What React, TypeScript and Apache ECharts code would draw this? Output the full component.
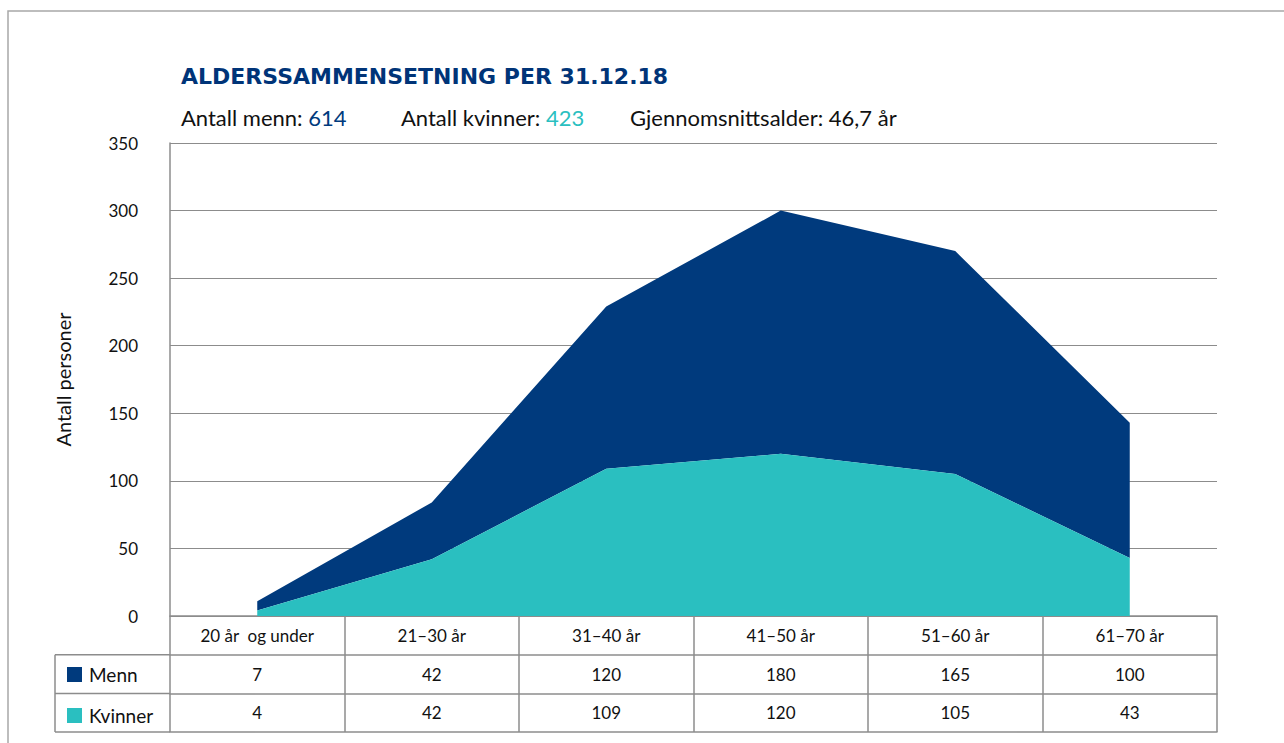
import React, { useEffect, useRef } from "react";
import * as echarts from "echarts";

const categories = ["20 år  og under", "21–30 år", "31–40 år", "41–50 år", "51–60 år", "61–70 år"];
const menn = [7, 42, 120, 180, 165, 100];
const kvinner = [4, 42, 109, 120, 105, 43];
const yTicks = { min: 0, max: 350, interval: 50 };

const MENN_COLOR = "#003A7D";
const KVINNER_COLOR = "#2ABFC0";
const GRID_COLOR = "#8c8c8c";
const FONT = "Lato, 'Open Sans', sans-serif";

export default function App() {
  const ref = useRef<HTMLDivElement>(null);
  useEffect(() => {
    if (!ref.current) return;
    const chart = echarts.init(ref.current, undefined, { renderer: "svg" });
    const L = 170, R = 1217, T = 143, B = 616;
    const rowH = 38.7;
    const TL = 55;
    const axisCommon = {
      type: "category" as const,
      data: categories,
      boundaryGap: true,
      position: "bottom" as const,
      axisLine: { show: true, lineStyle: { color: GRID_COLOR, width: 1.5 } },
      axisTick: { show: false },
    };
    chart.setOption({
      animation: false,
      textStyle: { fontFamily: FONT },
      grid: { left: L, right: 1284 - R, top: T, bottom: 743 - B, containLabel: false },
      title: {
        text: "ALDERSSAMMENSETNING PER 31.12.18",
        left: 176,
        top: 60,
        textStyle: { fontFamily: "'DejaVu Sans', sans-serif", fontSize: 22, fontWeight: "bold", color: "#003478" },
      },
      legend: {
        data: ["Menn", "Kvinner"],
        orient: "vertical",
        left: 62,
        top: 660,
        itemWidth: 15,
        itemHeight: 15,
        itemGap: 22,
        icon: "rect",
        textStyle: { fontFamily: FONT, fontSize: 19, color: "#111", padding: [0, 0, 3, 2] },
        selectedMode: false,
      },
      xAxis: [
        {
          ...axisCommon,
          offset: 0,
          axisTick: { show: true, interval: 0, length: rowH * 3, lineStyle: { color: GRID_COLOR, width: 1.5 } },
          axisLabel: { interval: 0, fontSize: 17, color: "#111", margin: 11, fontFamily: FONT },
        },
        {
          ...axisCommon,
          offset: rowH,
          axisLabel: {
            interval: 0, fontSize: 17, color: "#111", margin: 11, fontFamily: FONT,
            formatter: (_v: string, i: number) => String(menn[i]),
          },
        },
        {
          ...axisCommon,
          offset: rowH * 2,
          axisLabel: {
            interval: 0, fontSize: 17, color: "#111", margin: 11, fontFamily: FONT,
            formatter: (_v: string, i: number) => String(kvinner[i]),
          },
        },
        {
          ...axisCommon,
          offset: rowH * 3,
          axisLabel: { show: false },
        },
      ],
      yAxis: {
        type: "value",
        min: yTicks.min,
        max: yTicks.max,
        interval: yTicks.interval,
        name: "Antall personer",
        nameLocation: "middle",
        nameRotate: 90,
        nameGap: 97,
        nameTextStyle: { fontSize: 20, color: "#111", fontFamily: FONT },
        axisLine: { show: true, lineStyle: { color: GRID_COLOR, width: 1.5 } },
        axisTick: { show: false },
        axisLabel: { fontSize: 17, color: "#111", margin: 32, fontFamily: FONT },
        splitLine: { show: true, lineStyle: { color: GRID_COLOR, width: 1.2 } },
      },
      series: [
        {
          name: "Kvinner",
          type: "line",
          stack: "total",
          data: kvinner,
          symbol: "none",
          lineStyle: { width: 0 },
          itemStyle: { color: KVINNER_COLOR },
          areaStyle: { color: KVINNER_COLOR, opacity: 1 },
          z: 3,
        },
        {
          name: "Menn",
          type: "line",
          stack: "total",
          data: menn,
          symbol: "none",
          lineStyle: { width: 0 },
          itemStyle: { color: MENN_COLOR },
          areaStyle: { color: MENN_COLOR, opacity: 1 },
          z: 2,
        },
      ],
      graphic: [
        {
          type: "rect",
          shape: { x: 8, y: 11, width: 1400, height: 900 },
          style: { fill: "none", stroke: "#a8a8a8", lineWidth: 1.5 },
          silent: true,
          z: -10,
        },
        {
          type: "text",
          x: 181,
          y: 117,
          style: {
            text: "{a|Antall menn: }{m|614}",
            verticalAlign: "middle",
            rich: {
              a: { fontSize: 22, fill: "#111", fontFamily: FONT },
              m: { fontSize: 22, fill: MENN_COLOR, fontFamily: FONT },
            },
          },
        },
        {
          type: "text",
          x: 401,
          y: 117,
          style: {
            text: "{a|Antall kvinner: }{k|423}",
            verticalAlign: "middle",
            rich: {
              a: { fontSize: 22, fill: "#111", fontFamily: FONT },
              k: { fontSize: 22, fill: KVINNER_COLOR, fontFamily: FONT },
            },
          },
        },
        {
          type: "text",
          x: 630,
          y: 117,
          style: {
            text: "Gjennomsnittsalder: 46,7 år",
            verticalAlign: "middle",
            fontSize: 22,
            fill: "#111",
            fontFamily: FONT,
          },
        },
        {
          type: "line",
          shape: { x1: TL, y1: B + rowH, x2: L, y2: B + rowH },
          style: { stroke: GRID_COLOR, lineWidth: 1.5 },
        },
        {
          type: "line",
          shape: { x1: TL, y1: B + rowH * 2, x2: L, y2: B + rowH * 2 },
          style: { stroke: GRID_COLOR, lineWidth: 1.5 },
        },
        {
          type: "line",
          shape: { x1: TL, y1: B + rowH * 3, x2: L, y2: B + rowH * 3 },
          style: { stroke: GRID_COLOR, lineWidth: 1.5 },
        },
        {
          type: "line",
          shape: { x1: TL, y1: B + rowH, x2: TL, y2: B + rowH * 3 },
          style: { stroke: GRID_COLOR, lineWidth: 1.5 },
        },
      ],
    });
    return () => chart.dispose();
  }, []);
  return <div ref={ref} style={{ width: 1284, height: 743, position: "absolute", left: 0, top: 0 }} />;
}
